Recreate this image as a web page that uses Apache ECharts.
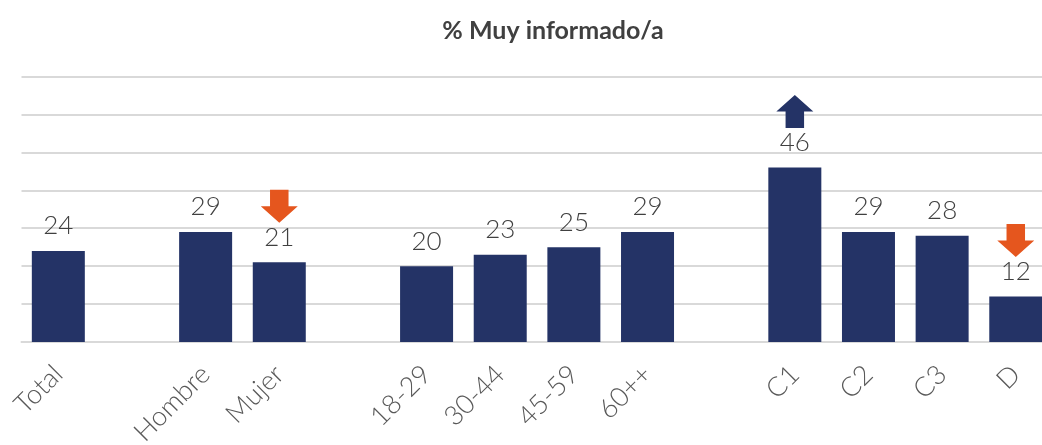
<!DOCTYPE html>
<html>
<head>
<meta charset="utf-8">
<script src="https://cdn.jsdelivr.net/npm/echarts@6/dist/echarts.min.js"></script>
<style>
  html, body { margin: 0; padding: 0; background: #fff; }
  #chart { width: 1042px; height: 445px; }
</style>
</head>
<body>
<div id="chart"></div>
<script>
// categorias ('' = hueco entre grupos)
const categories = ['Total', '', 'Hombre', 'Mujer', '', '18-29', '30-44', '45-59', '60++', '', 'C1', 'C2', 'C3', 'D'];
const values = [24, null, 29, 21, null, 20, 23, 25, 29, null, 46, 29, 28, 12];
const arrowsUp = ['C1'];
const arrowsDown = ['Mujer', 'D'];
const yTicks = [0, 10, 20, 30, 40, 50, 60, 70];

const NAVY = '#243366';
const ORANGE = '#E5561E';
const UP_PATH = 'path://M50,0 L100,50 L75,50 L75,100 L25,100 L25,50 L0,50 Z';
const DOWN_PATH = 'path://M25,0 L75,0 L75,50 L100,50 L50,100 L0,50 L25,50 Z';

function valueOf(cat) {
  return values[categories.indexOf(cat)];
}

const marks = arrowsUp.map(c => ({
  coord: [c, valueOf(c)],
  symbol: UP_PATH,
  itemStyle: { color: NAVY }
})).concat(arrowsDown.map(c => ({
  coord: [c, valueOf(c)],
  symbol: DOWN_PATH,
  itemStyle: { color: ORANGE }
})));

let myChart = echarts.init(document.getElementById('chart'));
myChart.setOption({
  animation: false,
  textStyle: { fontFamily: 'Lato' },
  title: {
    text: '% Muy informado/a',
    left: 548,
    top: 13,
    textAlign: 'center',
    textStyle: { fontFamily: 'Lato', fontWeight: 'bold', fontSize: 25, color: '#404040' }
  },
  grid: {
    left: 21.5, right: -10.6, top: 76.5, bottom: 103,
    containLabel: false,
    outerBoundsMode: 'none'
  },
  xAxis: {
    type: 'category',
    data: categories,
    axisLine: { lineStyle: { color: '#d9d9d9', width: 2 } },
    axisTick: { show: false },
    axisLabel: {
      interval: 0,
      rotate: 45,
      margin: 28,
      fontSize: 27,
      fontWeight: 300,
      color: '#595959',
      fontFamily: 'Lato'
    }
  },
  yAxis: {
    type: 'value',
    min: yTicks[0],
    max: yTicks[yTicks.length - 1],
    interval: 10,
    axisLabel: { show: false },
    axisLine: { show: false },
    axisTick: { show: false },
    splitLine: { lineStyle: { color: '#d9d9d9', width: 2 } }
  },
  series: [{
    type: 'bar',
    data: values,
    barWidth: 53,
    itemStyle: { color: NAVY },
    label: {
      show: true,
      position: 'top',
      distance: 12,
      fontSize: 26,
      fontWeight: 300,
      color: '#404040',
      fontFamily: 'Lato'
    },
    markPoint: {
      symbolSize: [37, 33],
      symbolKeepAspect: false,
      symbolOffset: [0, -56],
      label: { show: false },
      data: marks
    }
  }]
});
</script>
</body>
</html>
